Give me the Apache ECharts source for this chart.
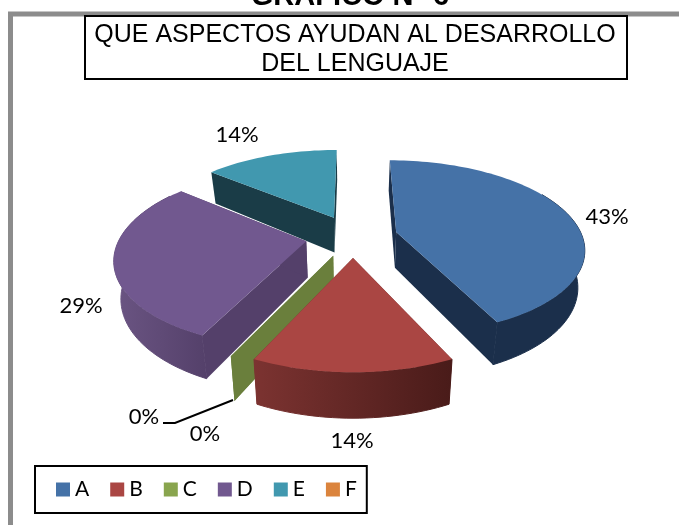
<!DOCTYPE html>
<html>
<head>
<meta charset="utf-8">
<style>html,body{margin:0;padding:0;background:#fff;overflow:hidden}#c{width:679px;height:525px}</style>
<script src="https://cdn.jsdelivr.net/npm/echarts@6/dist/echarts.min.js"></script>
</head>
<body>
<div id="c"></div>
<script>
const categories = ['A', 'B', 'C', 'D', 'E', 'F'];
const values = [43, 14, 0, 29, 14, 0];
const heading = 'GRÁFICO N° 6';
const titleText = 'QUE ASPECTOS AYUDAN AL DESARROLLO\nDEL LENGUAJE';

const topColors = ['#4572a7', '#aa4643', '#89a54e', '#71588f', '#4198af', '#db843d'];
const wallColors = ['#1b2f4b', '#6a2c2a', '#6a7f3c', '#54406a', '#1a3c47', '#a86a30'];
const rimColors = [
  ['#1b2f4b', '#1b2f4b'], ['#7c3331', '#491b19'], ['#6a7f3c', '#6a7f3c'],
  ['#6b5583', '#54406a'], ['#1a3c47', '#1a3c47'], ['#a86a30', '#a86a30']
];
const paintOrder = ['F', 'E', 'D', 'A', 'C', 'B'];
const labelAnchors = { A: [607, 217], B: [352, 441], C: [205, 434], D: [81, 306], E: [237, 135], F: [144, 417] };
const explodeBy = [0.24, 0.24, 0.24, 0.255, 0.25, 0.24];

// projection of the tilted, exploded pie
const CX = 353, CY = 236.5, RX = 186, RY = 85.7, PERSP = 0.175, DEPTH = 36, BOTTOM_X = 0.97;
const RIM_FROM = 60 / 180 * Math.PI, RIM_TO = 305 / 180 * Math.PI;
const total = values.reduce((a, b) => a + b, 0);
const starts = [];
values.reduce((acc, v, i) => { starts[i] = acc; return acc + v; }, 0);

function project(u, v, low) {
  const s = 1 / (1 - PERSP * v);
  let x = CX + RX * u * s;
  let y = CY + RY * v * s;
  if (low) { x = CX + (x - CX) * BOTTOM_X; y += DEPTH * s; }
  return [x, y];
}

function renderSlice(params, api) {
  const i = params.seriesIndex;
  const value = api.value(0);
  const a0 = starts[i] / total * Math.PI * 2;
  const a1 = (starts[i] + value) / total * Math.PI * 2;
  const mid = (a0 + a1) / 2;
  const ou = explodeBy[i] * Math.sin(mid), ov = -explodeBy[i] * Math.cos(mid);
  const rim = (a, low) => project(ou + Math.sin(a), ov - Math.cos(a), low);
  const apex = low => project(ou, ov, low);
  const steps = Math.max(1, Math.ceil((a1 - a0) / 0.03));
  const topRim = [], wallTop = [], wallLow = [];
  for (let k = 0; k <= steps; k++) {
    const a = a0 + (a1 - a0) * k / steps;
    topRim.push(rim(a, false));
    if (a >= RIM_FROM && a <= RIM_TO) {
      wallTop.push(rim(a, false));
      wallLow.push(rim(a, true));
    }
  }
  const children = [];
  const poly = (points, fill, edge) => children.push({
    type: 'polygon', shape: { points },
    style: edge ? { fill, stroke: fill, lineWidth: 1 } : { fill, stroke: null }
  });
  poly([apex(false), rim(a0, false), rim(a0, true), apex(true)], wallColors[i], false);
  poly([apex(false), rim(a1, false), rim(a1, true), apex(true)], wallColors[i], false);
  if (value > 0 && wallTop.length > 1) {
    poly(wallTop.concat(wallLow.slice().reverse()), new echarts.graphic.LinearGradient(0, 0, 1, 0, [
      { offset: 0, color: rimColors[i][0] }, { offset: 1, color: rimColors[i][1] }
    ]), true);
  }
  if (value > 0) poly([apex(false)].concat(topRim), topColors[i], false);
  const pos = labelAnchors[categories[i]];
  children.push({
    type: 'text', z2: 50,
    style: {
      text: value + '%', x: pos[0], y: pos[1], align: 'center', verticalAlign: 'middle',
      font: '22px Lato, sans-serif', fill: '#000'
    }
  });
  return { type: 'group', children };
}

const chart = echarts.init(document.getElementById('c'), null, { renderer: 'canvas' });
chart.setOption({
  animation: false,
  backgroundColor: '#fff',
  title: [
    { text: heading, left: 345, top: -23, textAlign: 'center',
      textStyle: { fontFamily: 'Liberation Sans', fontWeight: 'bold', fontSize: 29, color: '#000' } },
    { text: titleText, left: 350, top: 16, textAlign: 'center',
      textStyle: { fontFamily: 'Liberation Sans', fontWeight: 'normal', fontSize: 25, lineHeight: 29, color: '#000' } }
  ],
  legend: {
    data: categories, left: 35, top: 466, icon: 'rect', orient: 'horizontal',
    itemWidth: 14, itemHeight: 14, itemGap: 21,
    padding: [13, 10, 13, 21],
    borderColor: '#000', borderWidth: 2, backgroundColor: '#fff',
    textStyle: { fontFamily: 'Lato', fontSize: 21, color: '#000' },
    selectedMode: false
  },
  graphic: [
    { type: 'polyline', shape: { points: [[8, 14], [679, 14]] }, style: { stroke: '#8c8c8c', lineWidth: 5, fill: null } },
    { type: 'line', shape: { x1: 10.5, y1: 12, x2: 10.5, y2: 525 }, style: { stroke: '#8c8c8c', lineWidth: 5 } },
    { type: 'rect', shape: { x: 85, y: 16, width: 542, height: 63 }, style: { fill: null, stroke: '#000', lineWidth: 2 } },
    { type: 'polyline', shape: { points: [[163, 423], [175, 423], [233, 400]] }, style: { stroke: '#000', lineWidth: 2, fill: null } }
  ],
  series: categories.map((name, i) => ({
    type: 'custom', name, coordinateSystem: 'none', silent: true, clip: false,
    z: 2 + paintOrder.indexOf(name) / 10,
    itemStyle: { color: topColors[i] },
    renderItem: renderSlice,
    data: [[values[i]]]
  }))
});
</script>
</body>
</html>
